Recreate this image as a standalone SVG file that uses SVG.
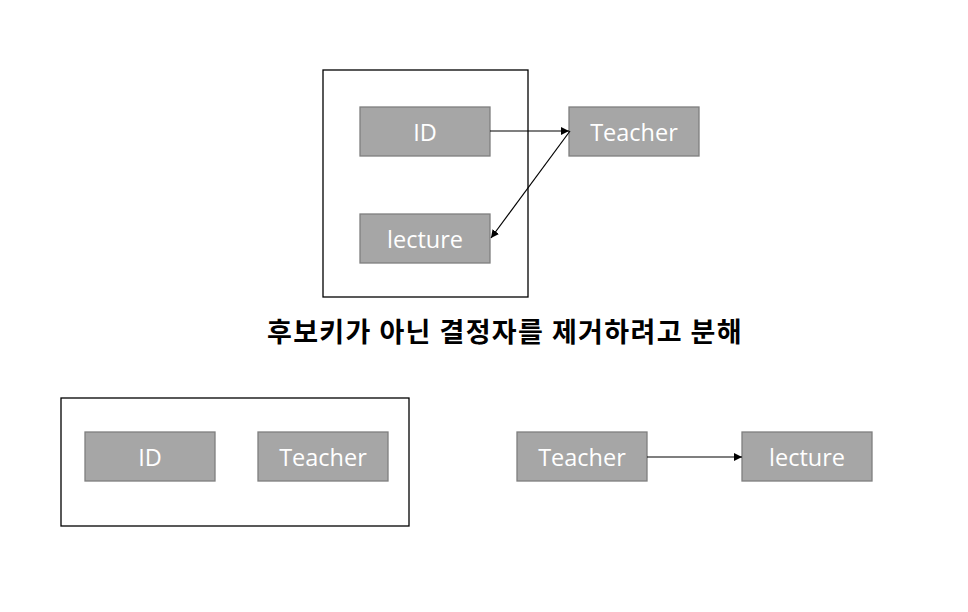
<svg xmlns="http://www.w3.org/2000/svg" width="968" height="612" viewBox="0 0 968 612">
<style>
.frame{fill:none;stroke:#000;stroke-width:1.3}
.box{fill:#a6a6a6;stroke:#7f7f7f;stroke-width:1.3}
.lbl{fill:#fff;font-family:"Open Sans","Noto Sans",sans-serif;font-size:23.5px;text-anchor:middle;dominant-baseline:central}
.title{fill:#000;font-family:"Noto Sans CJK KR",sans-serif;font-size:27px;font-weight:bold;text-anchor:middle;letter-spacing:1.4px}
.conn{stroke:#000;stroke-width:1.2;fill:none;marker-end:url(#ah)}
</style>
<defs>
<marker id="ah" viewBox="0 0 10 10" refX="10" refY="5" markerWidth="8" markerHeight="8" markerUnits="userSpaceOnUse" orient="auto">
<path d="M0,0 L10,5 L0,10 z" fill="#000"/>
</marker>
</defs>
<rect class="frame" x="323" y="70" width="205" height="227"/>
<rect class="frame" x="61" y="398" width="348" height="128"/>
<g id="n_id_top"><rect class="box" x="360" y="107" width="130" height="49"/><text class="lbl" x="425" y="131.5">ID</text></g>
<g id="n_lecture_top"><rect class="box" x="360" y="214" width="130" height="49"/><text class="lbl" x="425" y="238.5">lecture</text></g>
<g id="n_teacher_top"><rect class="box" x="569" y="107" width="130" height="49"/><text class="lbl" x="634" y="131.5">Teacher</text></g>
<text class="title" x="505" y="342">후보키가 아닌 결정자를 제거하려고 분해</text>
<g id="n_id_bot"><rect class="box" x="85" y="432" width="130" height="49"/><text class="lbl" x="150" y="456.5">ID</text></g>
<g id="n_teacher_bot"><rect class="box" x="258" y="432" width="130" height="49"/><text class="lbl" x="323" y="456.5">Teacher</text></g>
<g id="n_teacher_r"><rect class="box" x="517" y="432" width="130" height="49"/><text class="lbl" x="582" y="456.5">Teacher</text></g>
<g id="n_lecture_r"><rect class="box" x="742" y="432" width="130" height="49"/><text class="lbl" x="807" y="456.5">lecture</text></g>
<g id="connectors">
<line class="conn" x1="490" y1="131" x2="569" y2="131"/>
<line class="conn" x1="570" y1="131" x2="491" y2="238"/>
<line class="conn" x1="647" y1="457" x2="742" y2="457"/>
</g>
</svg>
